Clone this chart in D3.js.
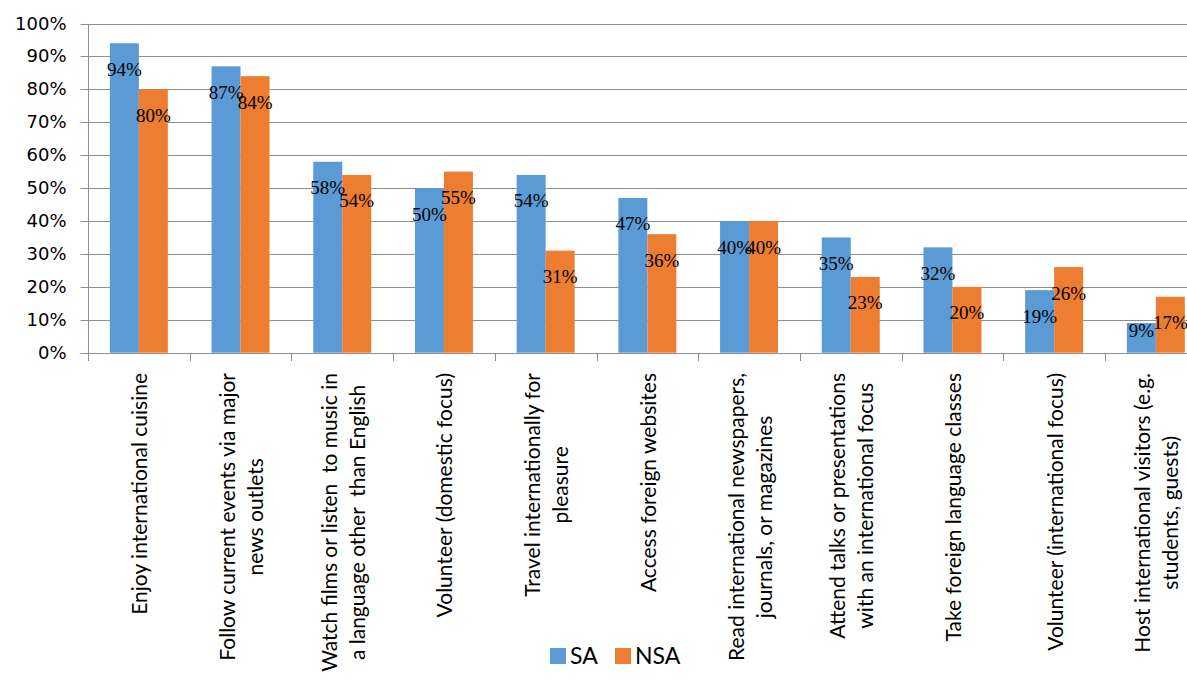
<!DOCTYPE html>
<html>
<head>
<meta charset="utf-8">
<script src="https://cdn.jsdelivr.net/npm/d3@7"></script>
<style>
  body { margin: 0; background: #fff; }
  svg { display: block; }
</style>
</head>
<body>
<div id="chart"></div>
<script>
var categories = [
  ["Enjoy international cuisine"],
  ["Follow current events via major", "news outlets"],
  ["Watch films or listen  to music in", "a language other  than English"],
  ["Volunteer (domestic focus)"],
  ["Travel internationally for", "pleasure"],
  ["Access foreign websites"],
  ["Read international newspapers,", "journals, or magazines"],
  ["Attend talks or presentations", "with an international focus"],
  ["Take foreign language classes"],
  ["Volunteer (international focus)"],
  ["Host international visitors (e.g.", "students, guests)"]
];
var seriesNames = ["SA", "NSA"];
var saValues = [0.94, 0.87, 0.58, 0.50, 0.54, 0.47, 0.40, 0.35, 0.32, 0.19, 0.09];
var nsaValues = [0.80, 0.84, 0.54, 0.55, 0.31, 0.36, 0.40, 0.23, 0.20, 0.26, 0.17];
var yTicks = [0, 0.1, 0.2, 0.3, 0.4, 0.5, 0.6, 0.7, 0.8, 0.9, 1.0];
var colours = { SA: "#5B9BD5", NSA: "#ED7D31" };

var width = 1187, height = 681;
var plotLeft = 88, step = 101.7, plotTop = 23.5, plotBottom = 352.7;

var svg = d3.select("#chart")
  .append("svg")
    .attr("width", width)
    .attr("height", height);

var keys = categories.map(function(d, i) { return "c" + i; });

var x = d3.scaleBand()
  .domain(keys)
  .range([plotLeft, plotLeft + step * keys.length])
  .paddingInner(0.43)
  .paddingOuter(0.215);

var xs = d3.scaleBand()
  .domain(seriesNames)
  .range([0, x.bandwidth()]);

var y = d3.scaleLinear()
  .domain([0, 1])
  .range([plotBottom, plotTop]);

// gridlines
svg.append("g")
  .selectAll("line")
  .data(yTicks.slice(1))
  .enter()
  .append("line")
    .attr("x1", plotLeft)
    .attr("x2", width)
    .attr("y1", d => Math.round(y(d)) + 0.5)
    .attr("y2", d => Math.round(y(d)) + 0.5)
    .style("stroke", "#8f8f8f")
    .style("stroke-width", 1);

// y axis
var yAxis = svg.append("g")
  .attr("transform", "translate(" + (plotLeft + 0.5) + ",0)")
  .call(d3.axisLeft(y).tickValues(yTicks).tickFormat(d3.format(".0%")).tickSize(8).tickPadding(14));
yAxis.selectAll(".tick")
  .attr("transform", d => "translate(0," + (Math.round(y(d)) + 0.5) + ")");
yAxis.selectAll("line").style("stroke", "#8f8f8f");
yAxis.select(".domain").style("stroke", "#8f8f8f")
  .attr("d", "M0," + (Math.round(plotTop) + 0.5) + "V" + (Math.round(plotBottom) + 0.5));
yAxis.selectAll("text")
  .style("font-family", "DejaVu Sans")
  .style("font-size", "18px")
  .style("fill", "#000");

// bars
var data = [];
keys.forEach(function(k, i) {
  data.push({ key: k, series: "SA", value: saValues[i] });
  data.push({ key: k, series: "NSA", value: nsaValues[i] });
});

svg.append("g")
  .selectAll("rect")
  .data(data)
  .enter()
  .append("rect")
    .attr("x", d => x(d.key) + xs(d.series))
    .attr("width", xs.bandwidth())
    .attr("y", d => y(d.value))
    .attr("height", d => y(0) - y(d.value))
    .style("fill", d => colours[d.series]);

// x axis line and ticks
svg.append("line")
  .attr("x1", plotLeft)
  .attr("x2", width)
  .attr("y1", Math.round(plotBottom) + 0.5)
  .attr("y2", Math.round(plotBottom) + 0.5)
  .style("stroke", "#8f8f8f");

svg.append("g")
  .selectAll("line")
  .data(d3.range(keys.length + 1))
  .enter()
  .append("line")
    .attr("x1", d => Math.round(plotLeft + d * x.step()) + 0.5)
    .attr("x2", d => Math.round(plotLeft + d * x.step()) + 0.5)
    .attr("y1", Math.round(plotBottom))
    .attr("y2", Math.round(plotBottom) + 8)
    .style("stroke", "#8f8f8f");

// data labels
svg.append("g")
  .selectAll("text")
  .data(data)
  .enter()
  .append("text")
    .attr("x", d => x(d.key) + xs(d.series) + xs.bandwidth() / 2)
    .attr("y", d => Math.min(y(d.value) + 26, y(0) - 22))
    .attr("text-anchor", "middle")
    .attr("dominant-baseline", "central")
    .style("font-family", "Liberation Serif")
    .style("font-size", "19px")
    .style("fill", "#000")
    .text(d => d3.format(".0%")(d.value));

// category labels (rotated)
var labelTop = 373, lineGap = 28;
var catG = svg.append("g")
  .selectAll("g")
  .data(categories)
  .enter()
  .append("g");

catG.each(function(lines, i) {
  var g = d3.select(this);
  var cx = x(keys[i]) + x.bandwidth() / 2;
  var texts = g.selectAll("text")
    .data(lines)
    .enter()
    .append("text")
      .attr("text-anchor", "middle")
      .attr("dominant-baseline", "central")
      .style("font-family", "Lato")
      .style("font-size", "21px")
      .style("fill", "#000")
      .style("white-space", "pre")
      .text(d => d);
  var maxLen = 0;
  texts.each(function() { maxLen = Math.max(maxLen, this.getComputedTextLength()); });
  texts
    .attr("transform", function(d, j) {
      var cxLine = cx + (j - (lines.length - 1) / 2) * lineGap;
      return "translate(" + cxLine + "," + (labelTop + maxLen / 2) + ") rotate(-90)";
    });
});

// legend
var legend = svg.append("g")
  .selectAll("g")
  .data(seriesNames)
  .enter()
  .append("g")
    .attr("transform", (d, i) => "translate(" + [550, 615][i] + ",648)");

legend.append("rect")
  .attr("width", 16)
  .attr("height", 16)
  .style("fill", d => colours[d]);

legend.append("text")
  .attr("x", 20)
  .attr("y", 16)
  .style("font-family", "Lato")
  .style("font-size", "23px")
  .style("fill", "#000")
  .text(d => d);
</script>
</body>
</html>
